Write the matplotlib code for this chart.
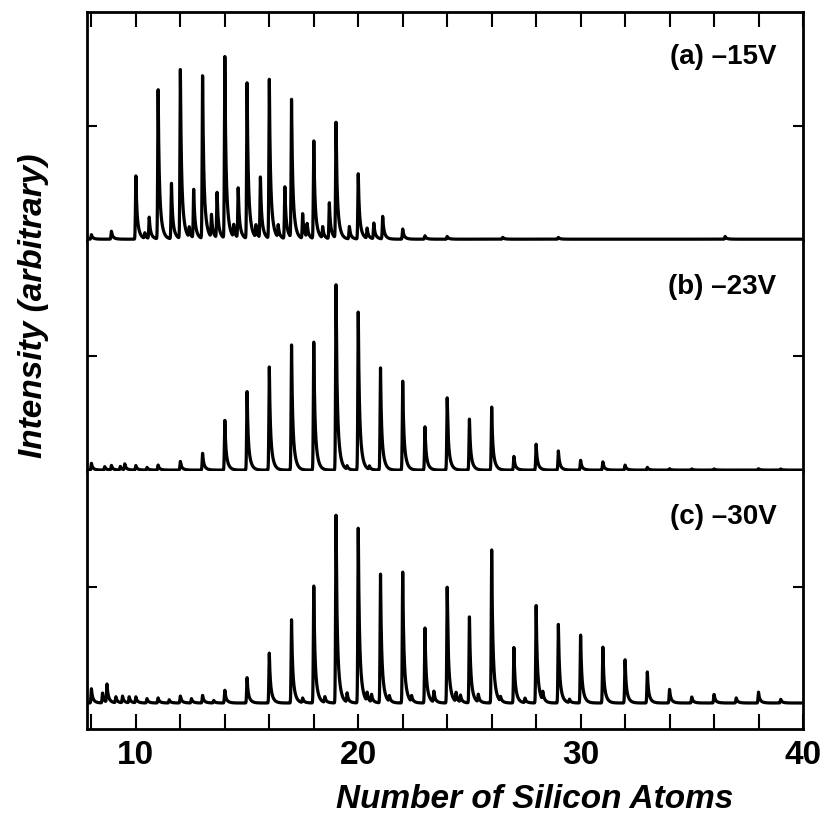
import numpy as np
import matplotlib.pyplot as plt
from matplotlib.ticker import MultipleLocator

plt.rcParams['font.family'] = ['Liberation Sans', 'DejaVu Sans']

# peak positions (number of Si atoms) and heights
a_pos = [8.0, 8.9, 10.0, 10.4, 10.6, 11.0, 11.6, 12.0, 12.4, 12.6,
         13.0, 13.4, 13.65, 14.0, 14.4, 14.6, 15.0, 15.4, 15.6, 16.0,
         16.4, 16.7, 17.0, 17.5, 17.7, 18.0, 18.4, 18.7, 19.0, 19.6,
         20.0, 20.4, 20.7, 21.1, 22.0, 23.0, 24.0, 26.5, 29.0, 36.5]
a_h = [0.02, 0.035, 0.28, 0.025, 0.095, 0.66, 0.245, 0.745, 0.045, 0.215,
       0.725, 0.10, 0.20, 0.80, 0.055, 0.22, 0.69, 0.055, 0.27, 0.70,
       0.055, 0.23, 0.61, 0.11, 0.06, 0.435, 0.05, 0.16, 0.51, 0.055,
       0.29, 0.045, 0.07, 0.10, 0.045, 0.015, 0.012, 0.008, 0.008, 0.012]

b_pos = [8.0, 8.6, 8.9, 9.3, 9.5, 10.0, 10.5, 11.0, 12.0, 13.0,
         14.0, 15.0, 16.0, 17.0, 18.0, 19.0, 19.5, 20.0, 20.5, 21.0,
         22.0, 23.0, 24.0, 25.0, 26.0, 27.0, 28.0, 29.0, 30.0, 31.0,
         32.0, 33.0, 34.0, 35.0, 36.0, 38.0, 39.0]
b_h = [0.03, 0.015, 0.02, 0.016, 0.026, 0.02, 0.012, 0.022, 0.038, 0.074,
       0.217, 0.345, 0.45, 0.548, 0.565, 0.81, 0.015, 0.696, 0.015, 0.446,
       0.39, 0.19, 0.316, 0.225, 0.275, 0.06, 0.113, 0.084, 0.043, 0.036,
       0.022, 0.012, 0.006, 0.005, 0.005, 0.006, 0.005]

c_pos = [8.0, 8.5, 8.7, 9.1, 9.4, 9.7, 10.0, 10.5, 11.0, 11.5,
         12.0, 12.5, 13.0, 13.5, 14.0, 15.0, 16.0, 17.0, 17.5, 18.0,
         18.5, 19.0, 19.5, 20.0, 20.4, 20.6, 21.0, 21.4, 22.0, 22.4,
         23.0, 23.4, 24.0, 24.4, 24.6, 25.0, 25.4, 26.0, 26.4, 27.0,
         27.5, 28.0, 28.3, 29.0, 29.5, 30.0, 31.0, 32.0, 33.0, 34.0,
         35.0, 36.0, 37.0, 38.0, 39.0]
c_h = [0.062, 0.043, 0.079, 0.026, 0.029, 0.026, 0.026, 0.019, 0.022, 0.014,
       0.03, 0.019, 0.033, 0.011, 0.055, 0.11, 0.215, 0.36, 0.02, 0.51,
       0.025, 0.81, 0.04, 0.76, 0.037, 0.033, 0.555, 0.025, 0.567, 0.025,
       0.325, 0.047, 0.50, 0.04, 0.03, 0.375, 0.033, 0.66, 0.02, 0.241,
       0.02, 0.42, 0.037, 0.34, 0.015, 0.296, 0.241, 0.188, 0.134, 0.059,
       0.026, 0.037, 0.022, 0.047, 0.016]

labels = ['(a) \u201315V', '(b) \u201323V', '(c) \u201330V']


def spectrum(x, pos, h):
    # sharp rise, tailing shoulder on the high-mass side
    y = np.zeros_like(x)
    for p, a in zip(pos, h):
        d = x - p
        left = np.exp(-0.5 * (d / 0.02) ** 2)
        dr = np.clip(d, 0, None)
        right = 0.5 * np.exp(-dr / 0.035) + 0.5 * np.exp(-dr / 0.11)
        y += a * np.where(d < 0, left, right)
    return y


x = np.linspace(7.8, 40, 8000)
data = [(a_pos, a_h), (b_pos, b_h), (c_pos, c_h)]

fig = plt.figure(figsize=(8.26, 8.24), dpi=100)
L, W = 87 / 826, 716 / 826
H = 824.0
boxes = [(12, 241), (241, 471), (471, 729)]
ylims = [(-0.008, 1.0), (-0.004, 1.0), (-26 / 232, 1.0)]

for i, (top, bot) in enumerate(boxes):
    ax = fig.add_axes([L, 1 - bot / H, W, (bot - top) / H])
    pos, h = data[i]
    ax.plot(x, spectrum(x, pos, h), color='black', lw=2.3)
    ax.set_xlim(7.8, 40)
    ax.set_ylim(*ylims[i])
    ax.set_yticks([0.5])
    ax.set_yticklabels([])
    ax.tick_params(axis='y', direction='in', left=True, right=True,
                   length=7, width=1.5)
    for s in ax.spines.values():
        s.set_linewidth(2)
    ax.text(38.8, 0.8, labels[i], ha='right', va='center',
            fontsize=20, fontweight='bold')
    ax.xaxis.set_major_locator(MultipleLocator(10))
    ax.xaxis.set_minor_locator(MultipleLocator(2))
    if i == 0:
        ax.spines['bottom'].set_visible(False)
        ax.tick_params(axis='x', which='both', direction='in', top=True,
                       bottom=False, labelbottom=False, length=11, width=1.5)
    elif i == 1:
        ax.spines['bottom'].set_visible(False)
        ax.spines['top'].set_visible(False)
        ax.tick_params(axis='x', which='both', top=False, bottom=False,
                       labelbottom=False)
    else:
        ax.spines['top'].set_visible(False)
        ax.tick_params(axis='x', which='both', direction='in', top=False,
                       bottom=True, length=11, width=1.5)
        ax.tick_params(axis='x', which='major', labelsize=24, pad=8)
        for t in ax.get_xticklabels():
            t.set_fontweight('bold')

fig.text(535 / 826, 1 - 800 / H, 'Number of Silicon Atoms', ha='center',
         va='center', fontsize=24, fontweight='bold', style='italic')
fig.text(34 / 826, 1 - 306 / H, 'Intensity (arbitrary)', rotation=90,
         ha='center', va='center', fontsize=24, fontweight='bold',
         style='italic')

fig.savefig('out.png', dpi=100)
